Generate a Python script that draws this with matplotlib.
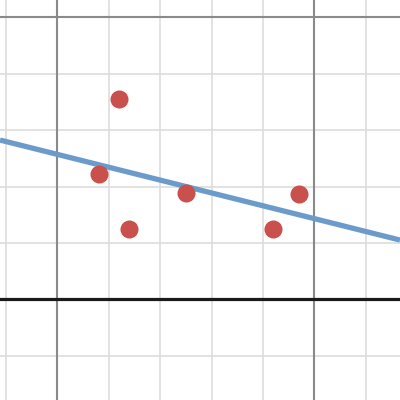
import numpy as np
import matplotlib
matplotlib.use("Agg")
import matplotlib.pyplot as plt

# scatter points (grid units)
pts_x = [1.20, 0.81, 1.40, 2.50, 4.19, 4.70]
pts_y = [3.56, 2.22, 1.25, 1.88, 1.25, 1.87]

# fitted line
line_intercept = 2.57
line_slope = -0.228

x_lim = (-1.114, 6.663)
y_lim = (-1.785, 5.307)

fig = plt.figure(figsize=(4, 4), dpi=100)
ax = fig.add_axes([0, 0, 1, 1])
ax.set_xlim(*x_lim)
ax.set_ylim(*y_lim)
ax.axis('off')

# grid: minor every unit, major every 5
for gx in range(-1, 7):
    major = gx % 5 == 0
    ax.axvline(gx, color='#8a8a8a' if major else '#dddddd',
               lw=1.5 if major else 1.2, zorder=1 if major else 0)
for gy in range(-1, 6):
    if gy == 0:
        continue
    major = gy % 5 == 0
    ax.axhline(gy, color='#8a8a8a' if major else '#dddddd',
               lw=1.5 if major else 1.2, zorder=1 if major else 0)
ax.axhline(0, color='#1a1a1a', lw=2.3, zorder=2)

# regression line
lx = np.array(x_lim)
ax.plot(lx, line_intercept + line_slope * lx, color='#6b9bcb', lw=3.8,
        solid_capstyle='butt', zorder=3)

# points
ax.plot(pts_x, pts_y, 'o', color='#c9504d', ms=13, mew=0, zorder=4)

fig.savefig('out.png', dpi=100)
